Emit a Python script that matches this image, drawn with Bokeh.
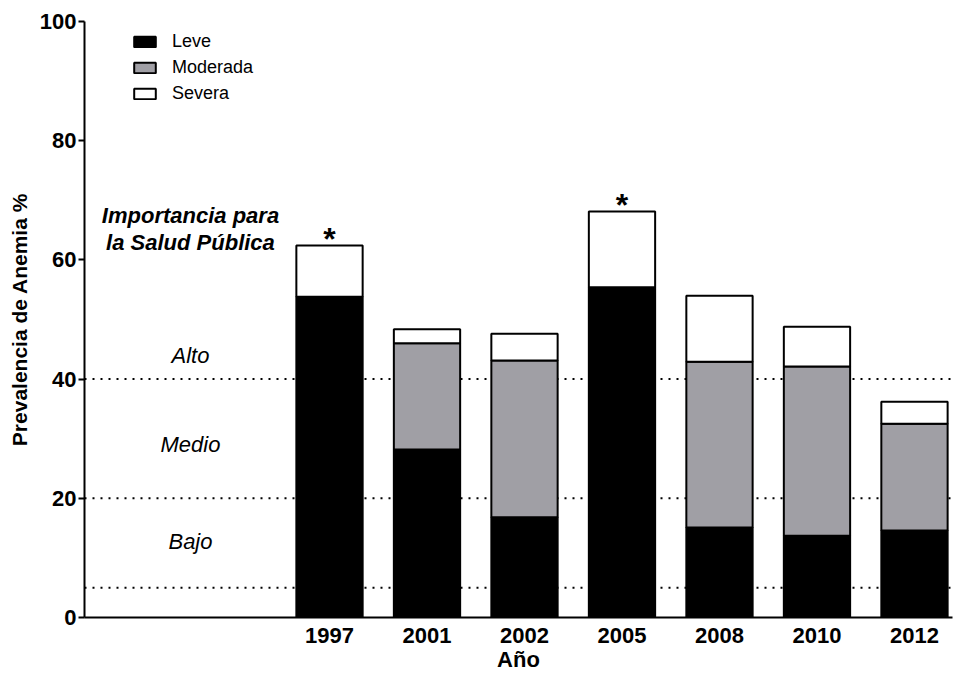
from bokeh.plotting import figure
from bokeh.models import Range1d, FixedTicker, Span, Legend, LegendItem, ColumnDataSource
from bokeh.core.properties import value
from bokeh.embed import file_html
from bokeh.resources import INLINE

# ---- data ----
years = ["1997", "2001", "2002", "2005", "2008", "2010", "2012"]
leve = [53.8, 28.2, 16.8, 55.4, 15.1, 13.7, 14.6]
moderada = [0.0, 17.8, 26.3, 0.0, 27.8, 28.4, 17.9]
severa = [8.6, 2.35, 4.5, 12.7, 11.1, 6.7, 3.7]
significant = ["1997", "2005"]
thresholds = [5, 20, 40]
level_names = ["Bajo", "Medio", "Alto"]
level_y = [12.8, 29.0, 44.0]
y_ticks = [0, 20, 40, 60, 80, 100]
series_names = ["Leve", "Moderada", "Severa"]
series_colors = ["#000000", "#a09fa5", "#ffffff"]

FONT = "Liberation Sans"

xs = list(range(len(years)))
src = ColumnDataSource(dict(x=xs, leve=leve, moderada=moderada, severa=severa))

p = figure(width=953, height=674, output_backend="svg", toolbar_location=None,
           x_range=Range1d(-2.513, 6.39), y_range=Range1d(0, 100),
           min_border_left=84, min_border_right=1, min_border_top=21, min_border_bottom=57)
p.outline_line_color = None
p.xgrid.visible = False
p.ygrid.visible = False
p.background_fill_color = "white"

# threshold dotted lines (under bars)
for t in thresholds:
    p.add_layout(Span(location=t, dimension="width", line_color="black", line_width=2,
                      line_dash="2 6", level="underlay"))

rs = p.vbar_stack(["leve", "moderada", "severa"], x="x", width=0.68, source=src,
                  fill_color=series_colors, line_color="black", line_width=2)

# significance stars
totals = [a + b + c for a, b, c in zip(leve, moderada, severa)]
sx = [years.index(y) for y in significant]
sy = [totals[years.index(y)] for y in significant]
p.text(x=sx, y=sy, text=["*"] * len(sx), text_align="center", text_baseline="middle",
       text_font=value(FONT), text_font_size="32px", text_font_style="bold",
       text_color="black", y_offset=-7)

# level labels
lab_x = -1.426
p.text(x=[lab_x] * 3, y=level_y, text=level_names, text_align="center", text_baseline="middle",
       text_font=value(FONT), text_font_size="22px", text_font_style="italic", text_color="black")
p.text(x=[lab_x, lab_x], y=[67.5, 63.0], text=["Importancia para", "la Salud Pública"],
       text_align="center", text_baseline="middle", text_font=value(FONT),
       text_font_size="22px", text_font_style="bold italic", text_color="black")

# axes
p.xaxis.ticker = FixedTicker(ticks=xs)
p.xaxis.major_label_overrides = {i: y for i, y in enumerate(years)}
p.xaxis.major_tick_out = 0
p.xaxis.major_tick_in = 0
p.xaxis.minor_tick_out = 0
p.xaxis.minor_tick_in = 0
p.xaxis.major_label_standoff = 10
p.xaxis.axis_label = "Año"
p.xaxis.axis_label_standoff = 1
p.xaxis.axis_line_width = 2

p.yaxis.ticker = FixedTicker(ticks=y_ticks)
p.yaxis.major_tick_out = 6
p.yaxis.major_tick_in = 0
p.yaxis.minor_tick_out = 0
p.yaxis.minor_tick_in = 0
p.yaxis.major_tick_line_width = 2
p.yaxis.major_label_standoff = 2
p.yaxis.axis_label = "Prevalencia de Anemia %"
p.yaxis.axis_label_standoff = 6
p.yaxis.axis_line_width = 2

for ax in (p.xaxis[0], p.yaxis[0]):
    ax.major_label_text_font = FONT
    ax.major_label_text_font_size = "22px"
    ax.major_label_text_font_style = "bold"
    ax.major_label_text_color = "black"
    ax.axis_label_text_font = FONT
    ax.axis_label_text_font_style = "bold"
    ax.axis_label_text_color = "black"
    ax.axis_line_color = "black"
    ax.major_tick_line_color = "black"
p.xaxis.axis_label_text_font_size = "22px"
p.yaxis.axis_label_text_font_size = "21px"

legend = Legend(items=[LegendItem(label=n, renderers=[r]) for n, r in zip(series_names, rs)],
                location=(47, 513), glyph_width=27, glyph_height=13, label_height=21,
                spacing=5, padding=0, margin=0, border_line_color=None,
                background_fill_alpha=0, label_standoff=14,
                label_text_font=FONT, label_text_font_size="18px", label_text_color="black")
p.add_layout(legend)

open("out.html", "w").write(file_html(p, INLINE))
